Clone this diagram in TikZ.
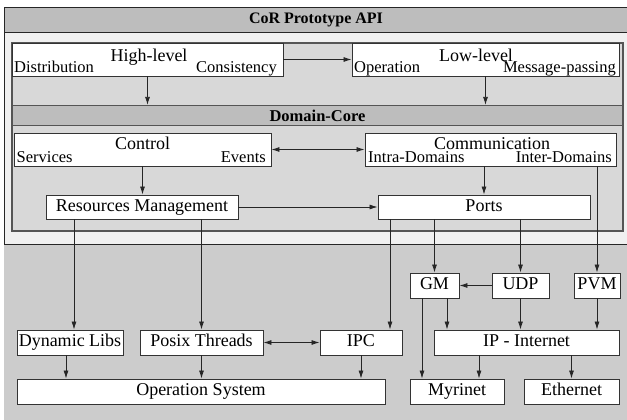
\documentclass[tikz,border=0pt]{standalone}
\usepackage{fontspec}
\setmainfont{Liberation Serif}
\usetikzlibrary{positioning, calc, arrows.meta}
\definecolor{bandgray}{HTML}{BDBDBD}
\definecolor{panelgray}{HTML}{D8D8D8}
\definecolor{lowgray}{HTML}{CCCCCC}
\definecolor{paleback}{HTML}{F0F0F0}
\definecolor{edgegray}{HTML}{555555}

\begin{document}
\begin{tikzpicture}[x=1pt, y=-1pt,
  box/.style={draw=black!80, line width=0.9pt, fill=white, inner sep=0pt,
    font=\fontsize{18}{18}\selectfont, text height=12pt, text depth=4pt},
  lbl/.style={inner sep=0pt, font=\fontsize{18}{18}\selectfont},
  sublbl/.style={inner sep=0pt, font=\fontsize{16.5}{16.5}\selectfont},
  arr/.style={-{Latex[length=8pt,width=5pt]}, line width=0.8pt, black!85},
  darr/.style={{Latex[length=8pt,width=5pt]}-{Latex[length=8pt,width=5pt]}, line width=0.8pt, black!85}]

\useasboundingbox (0,0) rectangle (627,420);

% backgrounds
\filldraw[fill=paleback, draw=black!85, line width=0.9pt] (4,7) rectangle (640,440);
\filldraw[fill=bandgray, draw=black!85, line width=0.9pt] (4,7) rectangle (640,32);
\node[inner sep=0pt, font=\bfseries\fontsize{16}{16}\selectfont] (apiT) at (316,19.5) {CoR Prototype API};
\fill[lowgray] (4,244) rectangle (640,440);
\draw[black!85, line width=0.9pt] (4,244) -- (640,244);
\filldraw[fill=panelgray, draw=edgegray, line width=1.2pt] (12,43) rectangle (623,231);
\node[draw=edgegray, line width=1.2pt, fill=bandgray, minimum width=611pt, minimum height=20pt,
  inner sep=0pt, font=\bfseries\fontsize{16.5}{16.5}\selectfont] (core) at (317.5,115.5) {Domain-Core};

% upper boxes
\node[box, minimum width=271pt, minimum height=33pt] (high) at (147.5,59.5) {};
\node[lbl, anchor=base] (highT) at (149,62) {High-level};
\node[sublbl, anchor=base west] (distT) at (14,72.5) {Distribution};
\node[sublbl, anchor=base east] (consT) at (277,72.5) {Consistency};

\node[box, minimum width=267pt, minimum height=33pt] (low) at (485.5,59.5) {};
\node[lbl, anchor=base] (lowT) at (476,62) {Low-level};
\node[sublbl, anchor=base west] (operT) at (354,72.5) {Operation};
\node[sublbl, anchor=base east] (msgT) at (616,72.5) {Message-passing};

\node[box, minimum width=257pt, minimum height=33pt] (ctrl) at (142.5,149.5) {};
\node[lbl, anchor=base] (ctrlT) at (142.5,149) {Control};
\node[sublbl, anchor=base west] (servT) at (16.5,162.5) {Services};
\node[sublbl, anchor=base east] (evtT) at (266,162.5) {Events};

\node[box, minimum width=251pt, minimum height=33pt] (comm) at (490.5,149.5) {};
\node[lbl, anchor=base] (commT) at (492,149) {Communication};
\node[sublbl, anchor=base west] (intraT) at (368,162.5) {Intra-Domains};
\node[sublbl, anchor=base east] (interT) at (612,162.5) {Inter-Domains};

\node[box, minimum width=192pt, minimum height=24pt] (res) at (142,207) {Resources Management};
\node[box, minimum width=212pt, minimum height=24pt] (ports) at (484,207) {Ports};

% lower boxes
\node[box, minimum width=49pt, minimum height=25pt] (gm) at (434.5,285.5) {GM};
\node[box, minimum width=57pt, minimum height=25pt] (udp) at (520.5,285.5) {UDP};
\node[box, minimum width=46pt, minimum height=25pt] (pvm) at (597,285.5) {PVM};

\node[box, minimum width=106pt, minimum height=25pt] (dyn) at (70,342.5) {Dynamic Libs};
\node[box, minimum width=123pt, minimum height=25pt] (posix) at (201.5,342.5) {Posix Threads};
\node[box, minimum width=82pt, minimum height=25pt] (ipc) at (361,342.5) {IPC};
\node[box, minimum width=185pt, minimum height=25pt] (ip) at (526.5,342.5) {IP - Internet};

\node[box, minimum width=368pt, minimum height=25pt] (os) at (201,391.5) {Operation System};
\node[box, minimum width=94pt, minimum height=25pt] (myr) at (457,391.5) {Myrinet};
\node[box, minimum width=95pt, minimum height=25pt] (eth) at (571.5,391.5) {Ethernet};

% connector ends
\coordinate (dynin) at ([xshift=4pt]dyn.north);
\coordinate (dynout) at ([xshift=-4pt]dyn.south);
\coordinate (ipcin) at ([xshift=29pt]ipc.north);
\coordinate (gmA) at ([xshift=-12.5pt]gm.south);
\coordinate (gmB) at ([xshift=12.5pt]gm.south);
\coordinate (ipA) at ([xshift=-47.5pt]ip.south);

% connectors
\draw[arr] (high.east) -- (low.west);
\draw[arr] (high.south) -- (high.south |- core.north);
\draw[arr] (low.south) -- (low.south |- core.north);
\draw[darr] (ctrl.east) -- (comm.west);
\draw[arr] (ctrl.south) -- (ctrl.south |- res.north);
\draw[arr] (ports.north |- comm.south) -- (ports.north);
\draw[arr] (res.east) -- (ports.west);
\draw[arr] (pvm.north |- comm.south) -- (pvm.north);

\draw[arr] (dynin |- res.south) -- (dynin);
\draw[arr] (posix.north |- res.south) -- (posix.north);
\draw[arr] (ipcin |- ports.south) -- (ipcin);
\draw[arr] (gm.north |- ports.south) -- (gm.north);
\draw[arr] (udp.north |- ports.south) -- (udp.north);
\draw[arr] (udp.west) -- (gm.east);

\draw[arr] (gmA) -- (gmA |- myr.north);
\draw[arr] (gmB) -- (gmB |- ip.north);
\draw[arr] (udp.south) -- (udp.south |- ip.north);
\draw[arr] (pvm.south) -- (pvm.south |- ip.north);
\draw[darr] (posix.east) -- (ipc.west);

\draw[arr] (dynout) -- (dynout |- os.north);
\draw[arr] (posix.south) -- (posix.south |- os.north);
\draw[arr] (ipc.south) -- (ipc.south |- os.north);
\draw[arr] (ipA) -- (ipA |- myr.north);
\draw[arr] (eth.north |- ip.south) -- (eth.north);

\end{tikzpicture}
\end{document}
